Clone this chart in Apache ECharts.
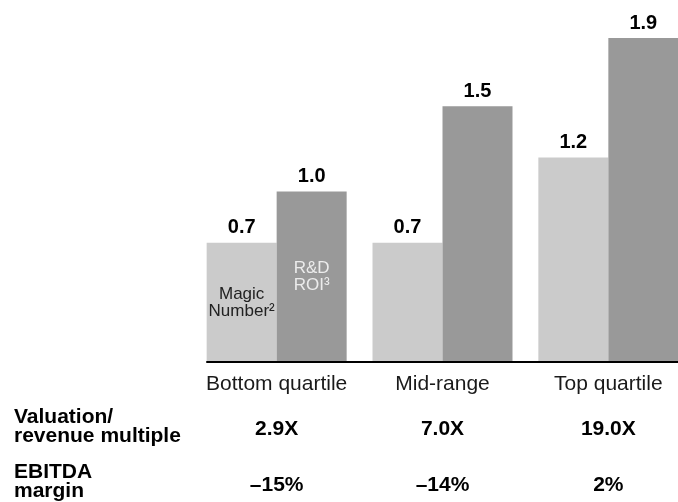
<!DOCTYPE html>
<html>
<head>
<meta charset="utf-8">
<script src="https://cdn.jsdelivr.net/npm/echarts@6/dist/echarts.min.js"></script>
<style>
  html, body { margin: 0; padding: 0; background: #fff; }
  #chart { width: 678px; height: 502px; }
</style>
</head>
<body>
<div id="chart"></div>
<script>
// Quartile groups and their metrics
const categories = ['Bottom quartile', 'Mid-range', 'Top quartile'];
const magicNumber = [0.7, 0.7, 1.2];
const rdRoi = [1.0, 1.5, 1.9];
const valuationMultiple = ['2.9X', '7.0X', '19.0X'];
const ebitdaMargin = ['–15%', '–14%', '2%'];
const seriesLabels = ['Magic\nNumber²', 'R&D\nROI³'];
const rowLabels = ['Valuation/\nrevenue multiple', 'EBITDA\nmargin'];
const positions = categories.map((c, i) => i);

const FONT = '"Liberation Sans", Arial, Helvetica, sans-serif';
const chart = echarts.init(document.getElementById('chart'), null, { renderer: 'canvas' });

// Shared horizontal range so every x axis lines up with the bar groups
const xRange = { type: 'value', min: -0.42, max: 2.42, splitLine: { show: false }, axisTick: { show: false } };

function rowAxis(values, offset, margin, bold) {
  return Object.assign({}, xRange, {
    position: 'bottom',
    offset: offset,
    axisLine: { show: false },
    axisLabel: {
      customValues: positions,
      formatter: v => values[Math.round(v)],
      margin: margin,
      fontSize: 21,
      fontWeight: bold ? 'bold' : 'normal',
      color: bold ? '#000' : '#1a1a1a',
      fontFamily: FONT
    }
  });
}

const pairs = (vals) => vals.map((v, i) => [i, v]);

const valueLabel = {
  show: true,
  position: 'top',
  distance: 5,
  fontSize: 20,
  fontWeight: 'bold',
  color: '#000',
  fontFamily: FONT,
  formatter: p => p.value[1].toFixed(1)
};

function nameOverlay(vals, text, color) {
  return {
    type: 'bar',
    xAxisIndex: 3,
    silent: true,
    barWidth: 70,
    barGap: '0%',
    data: pairs(vals),
    itemStyle: { color: 'rgba(0,0,0,0)' },
    label: {
      show: true,
      position: 'inside',
      fontSize: 17,
      lineHeight: 17,
      color: color,
      fontFamily: FONT,
      formatter: p => (p.dataIndex === 0 ? text : '')
    },
    z: 4
  };
}

chart.setOption({
  animation: false,
  backgroundColor: '#fff',
  textStyle: { fontFamily: FONT },
  grid: { left: 207, right: 0, top: 21, bottom: 140 },
  title: [
    { text: rowLabels[0], left: 14, top: 408, padding: 0,
      textStyle: { fontSize: 21, fontWeight: 'bold', lineHeight: 19, color: '#000', fontFamily: FONT } },
    { text: rowLabels[1], left: 14, top: 463, padding: 0,
      textStyle: { fontSize: 21, fontWeight: 'bold', lineHeight: 19, color: '#000', fontFamily: FONT } }
  ],
  xAxis: [
    Object.assign({}, xRange, {
      position: 'bottom',
      z: 5,
      axisLine: { show: true, onZero: false, lineStyle: { color: '#000', width: 2 } },
      axisLabel: {
        customValues: positions,
        formatter: v => categories[Math.round(v)],
        margin: 12,
        fontSize: 21,
        color: '#1a1a1a',
        fontFamily: FONT
      }
    }),
    rowAxis(valuationMultiple, 50, 7, true),
    rowAxis(ebitdaMargin, 106, 7, true),
    Object.assign({}, xRange, { show: false })
  ],
  yAxis: { type: 'value', min: 0, max: 2, show: false },
  series: [
    {
      name: 'Magic Number',
      type: 'bar',
      xAxisIndex: 0,
      barWidth: 70,
      barGap: '0%',
      data: pairs(magicNumber),
      itemStyle: { color: '#cbcbcb' },
      label: valueLabel
    },
    {
      name: 'R&D ROI',
      type: 'bar',
      xAxisIndex: 0,
      barWidth: 70,
      barGap: '0%',
      data: pairs(rdRoi),
      itemStyle: { color: '#999999' },
      label: valueLabel
    },
    nameOverlay(magicNumber, seriesLabels[0], '#222'),
    nameOverlay(rdRoi, seriesLabels[1], '#ececec')
  ]
});
</script>
</body>
</html>
